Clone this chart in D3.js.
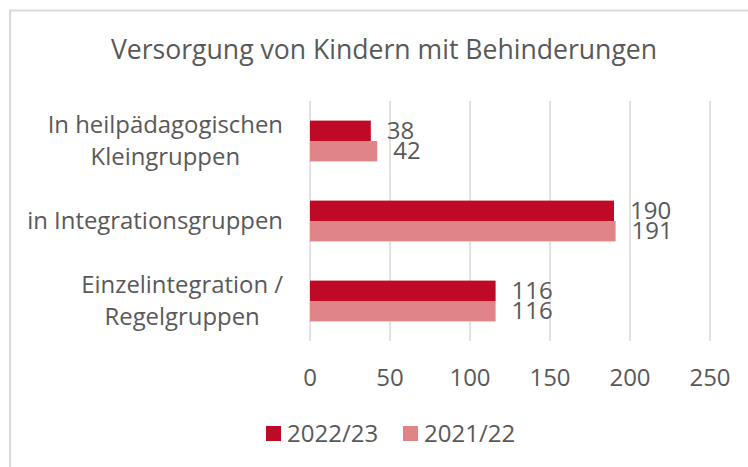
<!DOCTYPE html>
<html>
<head>
<meta charset="utf-8">
<script src="https://cdn.jsdelivr.net/npm/d3@7"></script>
<style>
  body { margin: 0; background: #fff; }
  text { font-family: "Open Sans", sans-serif; fill: #595959; }
</style>
</head>
<body>
<svg id="chart"></svg>
<script>
const categories = [
    ["In heilpädagogischen", "Kleingruppen"],
    ["in Integrationsgruppen"],
    ["Einzelintegration /", "Regelgruppen"]
];
const seriesNames = ["2022/23", "2021/22"];
const values2223 = [38, 190, 116];
const values2122 = [42, 191, 116];
const xTicks = [0, 50, 100, 150, 200, 250];
const colors = ["#be0a26", "#e08487"];

const width = 748;
const height = 467;

const svg = d3.select('#chart')
    .attr('width', width)
    .attr('height', height);

// outer frame (only top and left edge are in view)
svg.append('path')
    .attr('d', 'M10,467 V10.5 H748')
    .attr('fill', 'none')
    .attr('stroke', '#d9d9d9')
    .attr('stroke-width', 2);

svg.append('text')
    .attr('x', 384)
    .attr('y', 59)
    .attr('text-anchor', 'middle')
    .style('font-size', '26.6px')
    .text('Versorgung von Kindern mit Behinderungen');

const keys = categories.map((d, i) => i);

const xScale = d3.scaleLinear()
    .domain([0, 250])
    .range([310, 710]);

const yScale = d3.scaleBand()
    .domain(keys)
    .range([101, 341])
    .paddingInner(0.49)
    .paddingOuter(0.245);

const ySub = d3.scaleBand()
    .domain([0, 1])
    .range([0, yScale.bandwidth()]);

// gridlines
svg.append('g')
    .selectAll('line')
    .data(xTicks)
    .join('line')
    .attr('x1', d => xScale(d))
    .attr('x2', d => xScale(d))
    .attr('y1', 101)
    .attr('y2', 341)
    .attr('stroke', '#d9d9d9')
    .attr('stroke-width', 1.5);

// tick labels
svg.append('g')
    .selectAll('text')
    .data(xTicks)
    .join('text')
    .attr('x', d => xScale(d))
    .attr('y', 386)
    .attr('text-anchor', 'middle')
    .style('font-size', '24px')
    .text(d => d);

// category labels: block right-aligned at 283, lines centred inside the block
const catG = svg.append('g')
    .selectAll('text')
    .data(categories)
    .join('text')
    .attr('text-anchor', 'middle')
    .style('font-size', '23.9px')
    .attr('transform', (d, i) => `translate(283,${yScale(i) + yScale.bandwidth() / 2})`);

catG.selectAll('tspan')
    .data(d => d.map((t, j) => ({ t, j, n: d.length })))
    .join('tspan')
    .attr('x', 0)
    .attr('y', d => (d.j - (d.n - 1) / 2) * 31.5 + 8)
    .text(d => d.t);

catG.each(function () {
    let w = 0;
    d3.select(this).selectAll('tspan').each(function () {
        w = Math.max(w, this.getComputedTextLength());
    });
    d3.select(this).selectAll('tspan').attr('x', -w / 2);
});

// bars
const series = [values2223, values2122];

series.forEach((vals, s) => {
    const g = svg.append('g');

    g.selectAll('rect')
        .data(vals)
        .join('rect')
        .attr('x', xScale(0))
        .attr('y', (d, i) => yScale(i) + ySub(s))
        .attr('width', d => xScale(d) - xScale(0))
        .attr('height', ySub.bandwidth())
        .attr('fill', colors[s]);

    g.selectAll('text')
        .data(vals)
        .join('text')
        .attr('x', d => xScale(d) + 16)
        .attr('y', (d, i) => yScale(i) + ySub(s) + ySub.bandwidth() / 2 + 8)
        .style('font-size', '24px')
        .text(d => d);
});

// legend
const legendX = [266, 403];
const legend = svg.append('g')
    .selectAll('g')
    .data(seriesNames)
    .join('g')
    .attr('transform', (d, i) => `translate(${legendX[i]},426)`);

legend.append('rect')
    .attr('width', 15)
    .attr('height', 15)
    .attr('fill', (d, i) => colors[i]);

legend.append('text')
    .attr('x', 21)
    .attr('y', 16)
    .style('font-size', '24px')
    .text(d => d);
</script>
</body>
</html>
